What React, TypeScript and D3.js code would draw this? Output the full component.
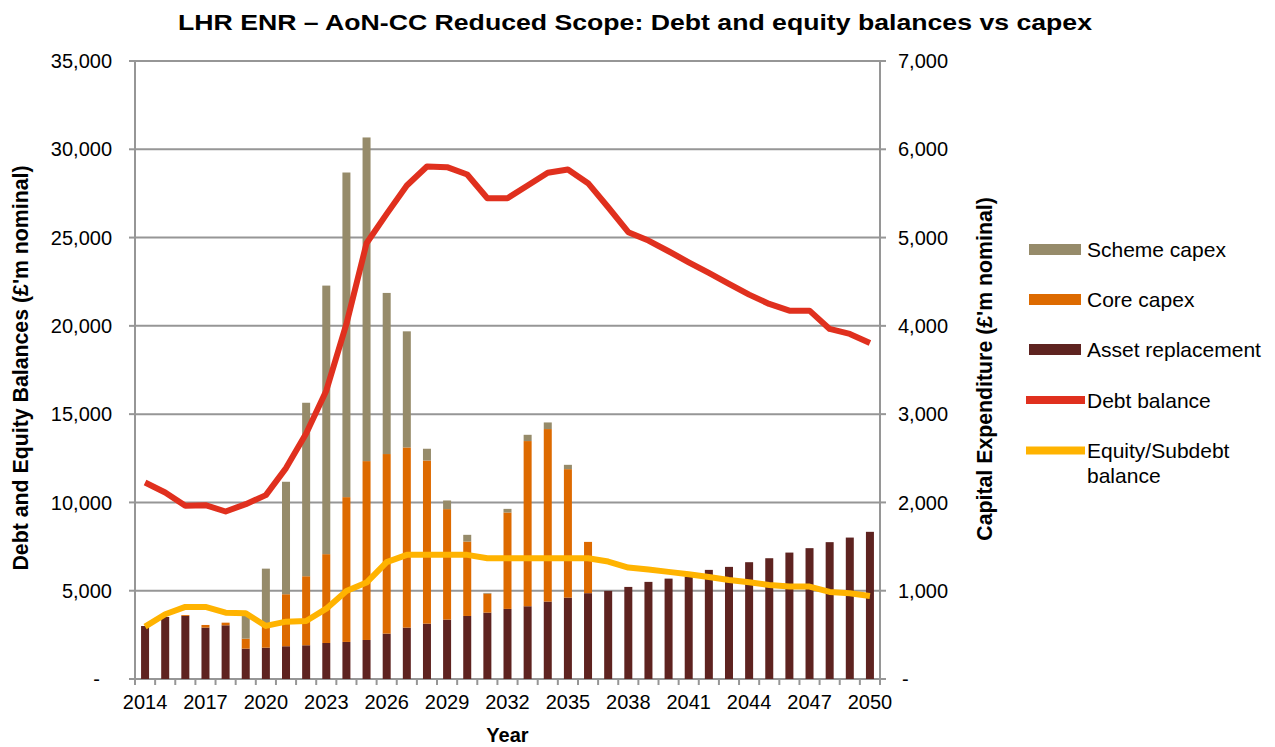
import React from "react";
import * as d3 from "d3";

const years = d3.range(2014, 2051).map(String);

const assetReplacement = [600, 703, 715, 582, 608, 344, 355, 371, 382, 408, 420, 442, 514, 582, 627, 673, 714, 752, 794, 824, 877, 922, 972, 998, 1043, 1100, 1137, 1160, 1236, 1270, 1323, 1368, 1432, 1482, 1550, 1602, 1667];
const coreCapex = [0, 0, 10, 30, 30, 113, 245, 589, 782, 1006, 1640, 2026, 2034, 2041, 1848, 1251, 843, 215, 1092, 1871, 1954, 1455, 581, 0, 0, 0, 0, 0, 0, 0, 0, 0, 0, 0, 0, 0, 0];
const schemeCapex = [0, 0, 0, 0, 0, 257, 650, 1274, 1965, 3042, 3677, 3666, 1825, 1315, 133, 98, 76, 8, 41, 71, 75, 49, 0, 0, 0, 0, 0, 0, 0, 0, 0, 0, 0, 0, 0, 0, 0];
const debtBalance = [11129, 10563, 9808, 9845, 9486, 9902, 10413, 11945, 13906, 16327, 20108, 24678, 26344, 27948, 29025, 28987, 28572, 27229, 27229, 27948, 28667, 28855, 28080, 26720, 25303, 24830, 24225, 23601, 23000, 22375, 21769, 21240, 20862, 20862, 19825, 19541, 19031];
const equityBalance = [2966, 3667, 4082, 4082, 3759, 3724, 3005, 3249, 3288, 3985, 4989, 5460, 6620, 7030, 7030, 7030, 7030, 6842, 6842, 6842, 6842, 6842, 6842, 6650, 6310, 6197, 6066, 5934, 5782, 5612, 5480, 5329, 5233, 5233, 4932, 4858, 4705];

const leftTicks = [0, 5000, 10000, 15000, 20000, 25000, 30000, 35000];
const rightTicks = [0, 1000, 2000, 3000, 4000, 5000, 6000, 7000];
const xLabelYears = ["2014", "2017", "2020", "2023", "2026", "2029", "2032", "2035", "2038", "2041", "2044", "2047", "2050"];

const COLORS = {
  scheme: "#968B6A",
  core: "#DD6A00",
  asset: "#5E2320",
  debt: "#E0301E",
  equity: "#FFB300",
  grid: "#969696",
};

const FONT = "'Liberation Sans', Arial, Helvetica, sans-serif";

export default function App() {
  const W = 1275, H = 747;
  const left = 135, right = 880, top = 61, bottom = 679;

  const x = d3.scaleBand<string>().domain(years).range([left, right]).paddingInner(0).paddingOuter(0);
  const yL = d3.scaleLinear().domain([0, 35000]).range([bottom, top]);
  const yR = d3.scaleLinear().domain([0, 7000]).range([bottom, top]);
  const fmt = d3.format(",");
  const barW = 8;

  const stackData = years.map((y, i) => ({
    year: y,
    asset: assetReplacement[i],
    core: coreCapex[i],
    scheme: schemeCapex[i],
  }));
  const series = d3.stack<any>().keys(["asset", "core", "scheme"])(stackData);

  const cx = (yr: string) => (x(yr) as number) + x.bandwidth() / 2;
  const line = d3.line<number>().x((_, i) => cx(years[i])).y((d) => yL(d));

  const boundaries = d3.range(0, years.length + 1).map((k) => left + k * x.bandwidth());

  const legendItems = [
    { label: ["Scheme capex"], color: COLORS.scheme, type: "bar", y: 249.5 },
    { label: ["Core capex"], color: COLORS.core, type: "bar", y: 299.5 },
    { label: ["Asset replacement"], color: COLORS.asset, type: "bar", y: 349.5 },
    { label: ["Debt balance"], color: COLORS.debt, type: "line", y: 400 },
    { label: ["Equity/Subdebt", "balance"], color: COLORS.equity, type: "line", y: 450.5 },
  ];

  return (
    <svg width={W} height={H} style={{ position: "absolute", left: 0, top: 0, background: "#fff" }} fontFamily={FONT}>
      <rect x={0} y={0} width={W} height={H} fill="#fff" />
      {leftTicks.map((t) => (
        <line key={"g" + t} x1={left} x2={right} y1={yL(t)} y2={yL(t)} stroke={COLORS.grid} strokeWidth={2} />
      ))}
      {series.map((s) => (
        <g key={s.key} fill={(COLORS as any)[s.key]}>
          {s.map((d, i) => {
            const h = yR(d[0]) - yR(d[1]);
            if (h <= 0) return null;
            return <rect key={i} x={cx(years[i]) - barW / 2} y={yR(d[1])} width={barW} height={h} />;
          })}
        </g>
      ))}
      <line x1={left} x2={left} y1={top} y2={bottom + 1} stroke={COLORS.grid} strokeWidth={2} />
      <line x1={right} x2={right} y1={top} y2={bottom + 1} stroke={COLORS.grid} strokeWidth={2} />
      {leftTicks.map((t) => (
        <line key={"lt" + t} x1={left - 6} x2={left} y1={yL(t)} y2={yL(t)} stroke={COLORS.grid} strokeWidth={2} />
      ))}
      {rightTicks.map((t) => (
        <line key={"rt" + t} x1={right} x2={right + 6} y1={yR(t)} y2={yR(t)} stroke={COLORS.grid} strokeWidth={2} />
      ))}
      {boundaries.map((b, k) => (
        <line key={"xt" + k} x1={b} x2={b} y1={bottom} y2={bottom + 6} stroke={COLORS.grid} strokeWidth={2} />
      ))}
      <path d={line(debtBalance) as string} fill="none" stroke={COLORS.debt} strokeWidth={6} strokeLinejoin="round" />
      <path d={line(equityBalance) as string} fill="none" stroke={COLORS.equity} strokeWidth={6} strokeLinejoin="round" />
      {leftTicks.map((t) => (
        <text key={"ll" + t} x={t === 0 ? 100 : 112} y={yL(t)} dy="0.36em" textAnchor="end" fontSize={20} fill="#000">
          {t === 0 ? "-" : fmt(t)}
        </text>
      ))}
      {rightTicks.map((t) => (
        <text key={"rl" + t} x={t === 0 ? 902 : 898} y={yR(t)} dy="0.36em" textAnchor="start" fontSize={20} fill="#000">
          {t === 0 ? "-" : fmt(t)}
        </text>
      ))}
      {xLabelYears.map((yr) => (
        <text key={"xl" + yr} x={cx(yr)} y={709} textAnchor="middle" fontSize={20} fill="#000">
          {yr}
        </text>
      ))}
      <text x={cx("2032")} y={742} textAnchor="middle" fontSize={20} fontWeight="bold">Year</text>
      <text transform={`translate(28,368) rotate(-90)`} textAnchor="middle" fontSize={21.3} fontWeight="bold">
        Debt and Equity Balances (£'m nominal)
      </text>
      <text transform={`translate(992,369) rotate(-90)`} textAnchor="middle" fontSize={21.3} fontWeight="bold">
        Capital Expenditure (£'m nominal)
      </text>
      <text x={635} y={30} textAnchor="middle" fontSize={22} fontWeight="bold" textLength={914} lengthAdjust="spacingAndGlyphs">
        LHR ENR – AoN-CC Reduced Scope: Debt and equity balances vs capex
      </text>
      {legendItems.map((it) => (
        <g key={it.label[0]}>
          {it.type === "bar" ? (
            <rect x={1029} y={it.y - 5.5} width={52} height={11} fill={it.color} />
          ) : (
            <rect x={1026} y={it.y - 4} width={59} height={8} fill={it.color} />
          )}
          {it.label.map((l, j) => (
            <text key={j} x={1087} y={it.y + j * 24.5} dy="0.36em" fontSize={21} fill="#000">
              {l}
            </text>
          ))}
        </g>
      ))}
    </svg>
  );
}
